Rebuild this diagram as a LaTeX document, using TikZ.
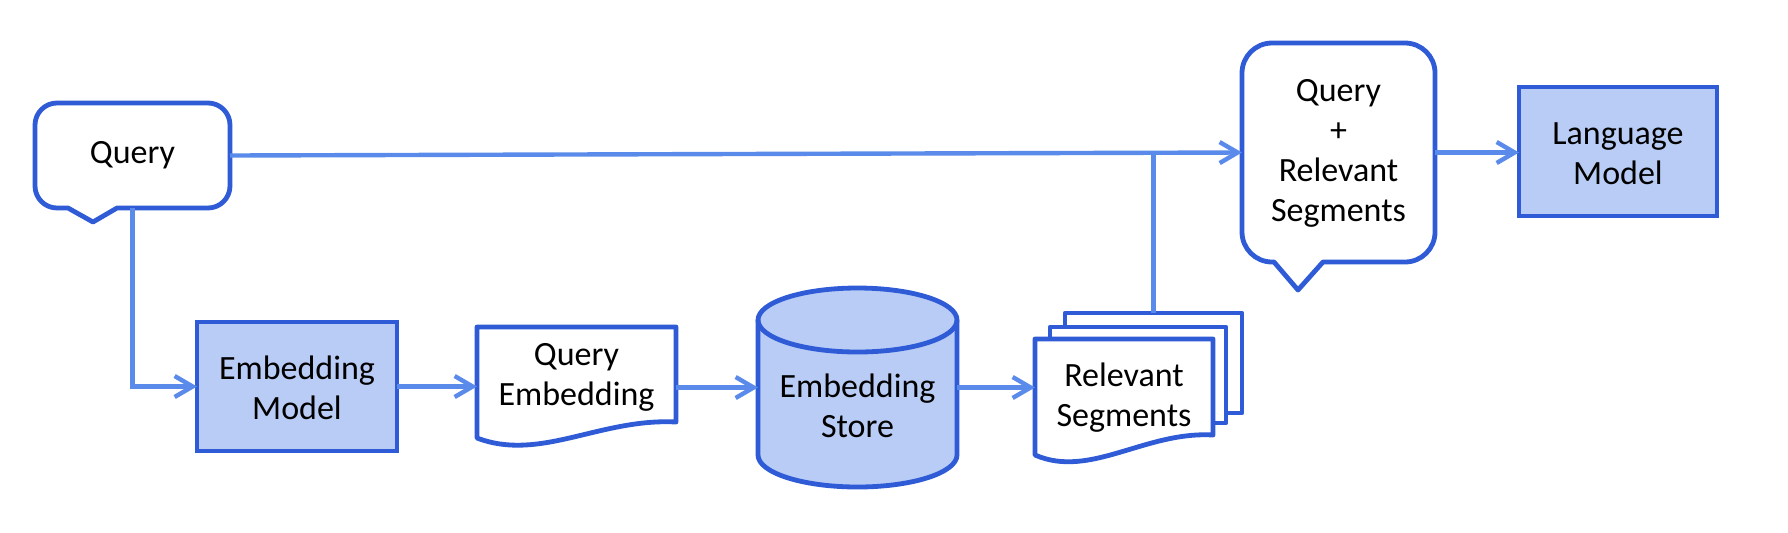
\documentclass[tikz,border=0pt]{standalone}
\usepackage{fontspec}
\setmainfont{Carlito}
\usetikzlibrary{arrows.meta,calc}
\definecolor{cBorder}{HTML}{2F5CD6}
\definecolor{cLine}{HTML}{5A8BEA}
\definecolor{cFill}{HTML}{B8CCF5}
\tikzset{
  outline/.style={draw=cBorder, line width=2.4pt, line join=round},
  hold/.style={draw=none, inner sep=0pt, outer sep=0pt},
  procbox/.style={draw=cBorder, fill=cFill, line width=2.4pt, inner sep=0pt, outer sep=0pt},
  lbl/.style={font=\fontsize{17pt}{20pt}\selectfont, align=center, inner sep=0pt},
  link/.style={draw=cLine, line width=2.2pt},
  arrowlink/.style={link, -{Straight Barb[length=9pt,width=10.5pt]}}
}
\begin{document}
\begin{tikzpicture}[x=0.5pt,y=-0.5pt]
\useasboundingbox (0,0) rectangle (1788,532);
\fill[white] (0,0) rectangle (1788,532);

% placeholder nodes for shapes
\node[hold, minimum width=97.5pt, minimum height=52.5pt] (query) at (132.5,155.5) {};
\node[hold, minimum width=96.5pt, minimum height=109.5pt] (qr) at (1338.5,152.5) {};
\node[hold, minimum width=99.5pt, minimum height=55.5pt] (qe) at (576.5,382.5) {};
\node[hold, minimum width=99.5pt, minimum height=99.5pt] (store) at (857.5,387.5) {};
\node[hold, minimum width=89pt, minimum height=58pt] (front) at (1124,397) {};
\node[hold, minimum width=88pt, minimum height=48pt] (mid) at (1138,375) {};
\node[hold, minimum width=88.5pt, minimum height=50pt] (back) at (1153.5,363) {};

% Query callout
\draw[outline, fill=white] (57,103) -- (208,103) arc[start angle=90, end angle=0, radius=11pt]
  -- (230,186) arc[start angle=0, end angle=-90, radius=11pt]
  -- (117,208) -- (93,222) -- (68,208) -- (57,208)
  arc[start angle=270, end angle=180, radius=11pt]
  -- (35,125) arc[start angle=180, end angle=90, radius=11pt] -- cycle;
\node[lbl] (querytxt) at (query) {Query};

% Query + Relevant Segments callout
\draw[outline, fill=white] (1272,43) -- (1405,43) arc[start angle=90, end angle=0, radius=15pt]
  -- (1435,232) arc[start angle=0, end angle=-90, radius=15pt]
  -- (1323,262) -- (1298,290) -- (1274,262) -- (1272,262)
  arc[start angle=270, end angle=180, radius=15pt]
  -- (1242,73) arc[start angle=180, end angle=90, radius=15pt] -- cycle;
\node[lbl] (qrtxt) at (1338.5,153.5) {Query\\+\\Relevant\\Segments};

% Embedding Model and Language Model
\node[procbox, minimum width=100pt, minimum height=64.5pt] (embm) at (297,386.5) {};
\node[lbl] (embmtxt) at (297,388) {Embedding\\Model};
\node[procbox, minimum width=99pt, minimum height=64.5pt] (lm) at (1618,151.5) {};
\node[lbl] (lmtxt) at (1618,153.5) {Language\\Model};

% Query Embedding document
\draw[outline, fill=white] (477,327) -- (676,327) -- (676,422)
  .. controls (600,418) and (540,462) .. (477,438) -- cycle;
\node[lbl] (qetxt) at (576.5,377) {Query\\Embedding};

% Embedding Store cylinder
\draw[outline, fill=cFill] (758,320) -- (758,455)
  arc[start angle=180, end angle=360, x radius=49.75pt, y radius=16pt]
  -- (957,320)
  arc[start angle=0, end angle=180, x radius=49.75pt, y radius=16pt] -- cycle;
\draw[outline] (758,320) arc[start angle=180, end angle=360, x radius=49.75pt, y radius=16pt];
\node[lbl] (storetxt) at (857.5,406) {Embedding\\Store};

% Relevant Segments stack
\draw[outline, fill=white] (1065,313) rectangle (1242,413);
\draw[outline, fill=white] (1050,327) rectangle (1226,423);
\draw[outline, fill=white] (1035,339) -- (1213,339) -- (1213,435)
  .. controls (1145,431) and (1090,479) .. (1035,455) -- cycle;
\node[lbl] (fronttxt) at (1124,398) {Relevant\\Segments};

% connectors
\draw[arrowlink] (query.east) -- (qr.west);
\draw[arrowlink] (query.south) |- (embm.west);
\draw[arrowlink] (embm.east) -- (embm.east -| qe.west);
\draw[arrowlink] (store.west -| qe.east) -- (store.west);
\draw[arrowlink] (store.east) -- (store.east -| front.west);
\draw[link] (back.north) -- (back.north |- qr.west);
\draw[arrowlink] (qr.east) -- (qr.east -| lm.west);
\end{tikzpicture}
\end{document}
